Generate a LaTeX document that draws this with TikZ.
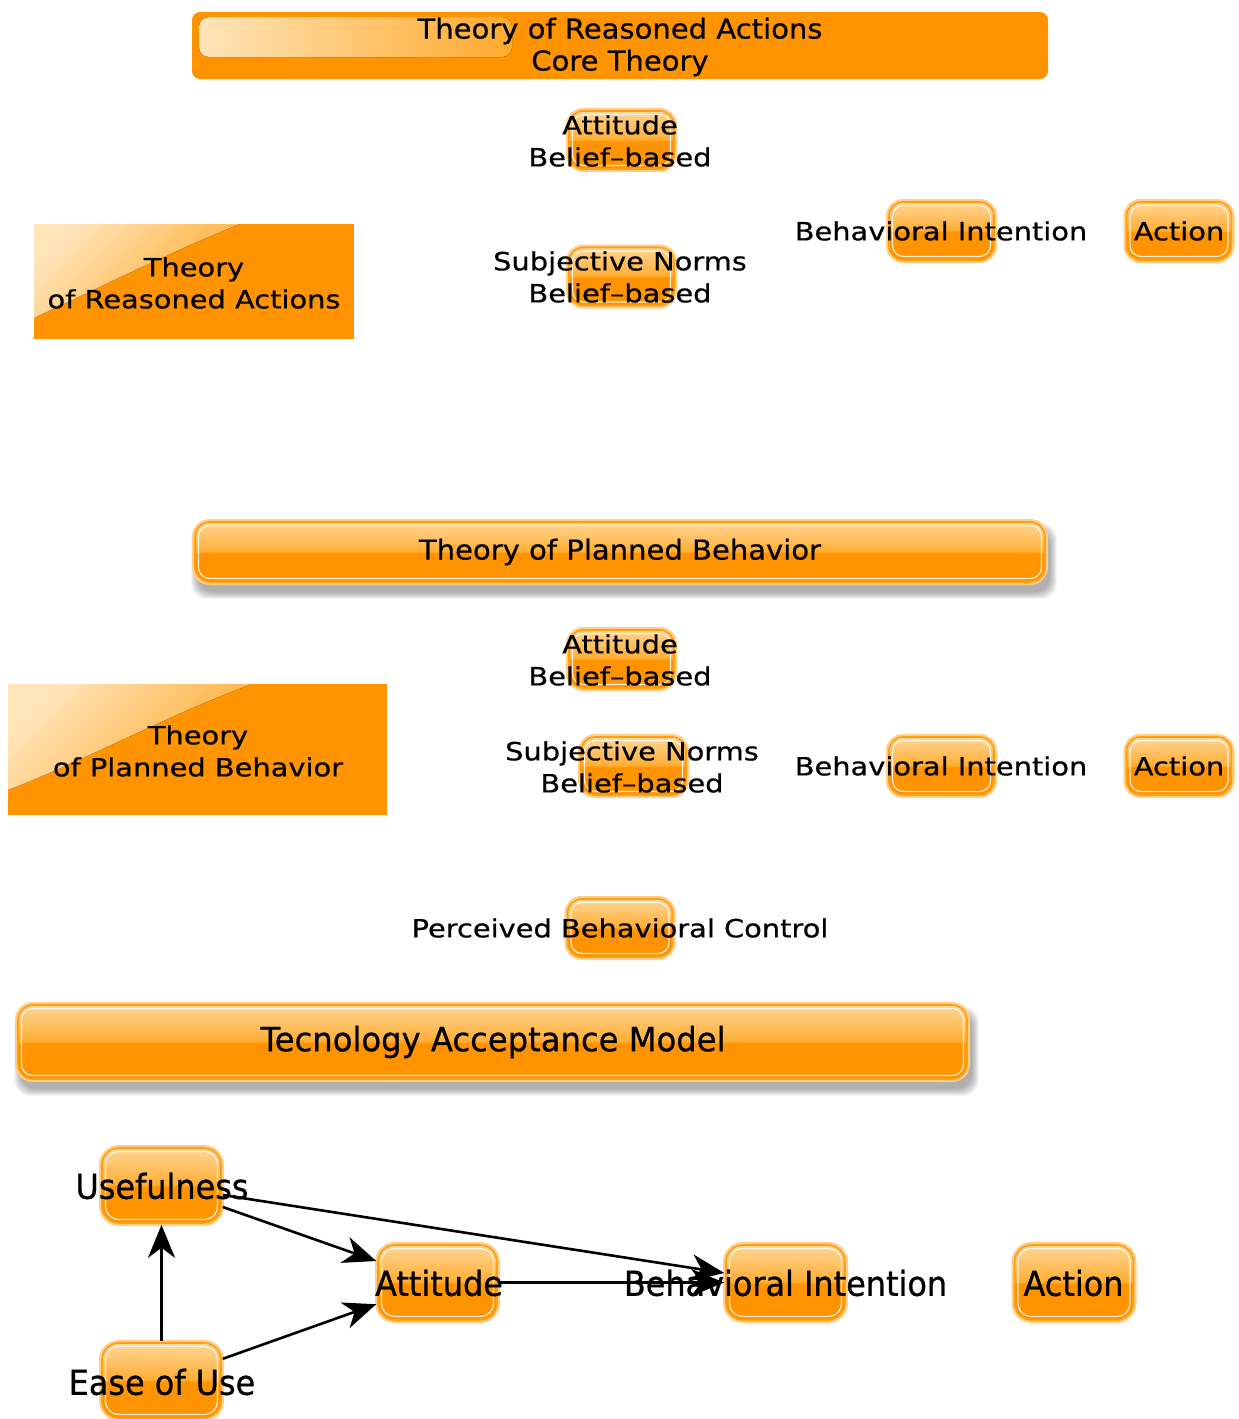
\documentclass[tikz,border=0pt]{standalone}
\usepackage{fontspec}
\usetikzlibrary{arrows.meta}

% Sans families at the widths used by the different label groups
\newfontfamily\lblfam[FakeStretch=1.15,FakeBold=0.6]{DejaVu Sans}
\newfontfamily\barfam[FakeStretch=1.06,FakeBold=0.6]{DejaVu Sans}
\newfontfamily\tamfam[FakeStretch=0.965,FakeBold=0.7]{DejaVu Sans}
\newfontfamily\botfam[FakeStretch=0.93,FakeBold=0.8]{DejaVu Sans}

\definecolor{org}{RGB}{255,147,0}
\definecolor{orgMid}{RGB}{255,174,52}
\definecolor{orgTop}{RGB}{255,214,150}
\definecolor{ring}{RGB}{255,206,135}
\definecolor{orgLine}{RGB}{255,158,18}
\definecolor{paleGloss}{RGB}{255,228,185}
\definecolor{glossEnd}{RGB}{255,170,45}

% glossy fill: pale upper half, solid orange lower half
\pgfdeclareverticalshading{glossy}{100bp}{color(0bp)=(org); color(25bp)=(org); color(49bp)=(org); color(50.5bp)=(orgMid); color(75bp)=(orgTop); color(100bp)=(orgTop)}

% soft shadow below a bar: x1,y1,x2,y2 of the bar
\newcommand\barshadow[4]{%
  \foreach \k in {1,...,8}{%
    \fill[black, opacity=0.045, rounded corners=16pt]
      (#1+4-9+\k, #2+9-9+\k) rectangle (#3+4+9-\k, #4+9+9-\k);}}

\tikzset{
  gloss/.style={draw=orgLine, line width=1.6pt, shading=glossy, inner sep=0pt,
    preaction={draw=ring, line width=6pt},
    path picture={\draw[white, opacity=0.85, line width=1.2pt, rounded corners=#1]
      ([shift={(3.5pt,-3.5pt)}]path picture bounding box.north west) rectangle
      ([shift={(-3.5pt,3.5pt)}]path picture bounding box.south east);}},
  smallbox/.style={gloss=11pt, rounded corners=14pt, minimum width=105pt, minimum height=58pt},
  botbox/.style={gloss=13pt, rounded corners=17pt, minimum width=119pt, minimum height=75pt},
  barbox/.style={gloss=11pt, rounded corners=15pt},
  flatbox/.style={fill=org, inner sep=0pt},
  lbl/.style={align=center, inner sep=0pt, font=\lblfam\fontsize{25.1}{32}\selectfont},
  barlbl/.style={align=center, inner sep=0pt, font=\barfam\fontsize{27.4}{32}\selectfont},
  tamlbl/.style={inner sep=0pt, font=\tamfam\fontsize{33.4}{40}\selectfont},
  botlbl/.style={inner sep=0pt, font=\botfam\fontsize{34.3}{40}\selectfont},
  arr/.style={-{Stealth[length=33pt,width=27pt,inset=10pt]}, line width=2.6pt, shorten >=1pt, shorten <=1pt}
}

\begin{document}
\begin{tikzpicture}[x=1pt, y=-1pt]
\useasboundingbox (0,0) rectangle (1239,1419);
\fill[white] (0,0) rectangle (1239,1419);

% ---------- Theory of Reasoned Actions ----------
\node[flatbox, rounded corners=8pt, minimum width=856pt, minimum height=67pt] (traTitle) at (620,45.5) {};
\fill[left color=paleGloss, right color=glossEnd, rounded corners=10pt] (199,17) rectangle (512,57);
\node[barlbl] (traTitleT) at (620,47) {Theory of Reasoned Actions\\Core Theory};

\node[flatbox, minimum width=320pt, minimum height=115pt] (traLeft) at (194,281.5) {};
\begin{scope}
  \clip (34,224) rectangle (354,339);
  \fill[top color=paleGloss, bottom color=glossEnd, shading angle=45]
    (34,224) -- (240,224) .. controls (170,252) and (90,292) .. (34,318) -- cycle;
\end{scope}
\node[lbl] (traLeftT) at (194,283) {Theory\\of Reasoned Actions};

\node[smallbox] (traAtt) at (621.5,140) {};
\node[smallbox] (traSn) at (621.5,276.5) {};
\node[smallbox] (traBi) at (941.5,231) {};
\node[smallbox] (traAct) at (1179,231) {};

\node[lbl] (traAttT) at (620,141) {Attitude\\Belief–based};
\node[lbl] (traSnT) at (620,277) {Subjective Norms\\Belief–based};
\node[lbl] (traBiT) at (941,231) {Behavioral Intention};
\node[lbl] (traActT) at (1179,231) {Action};

% ---------- Theory of Planned Behavior ----------
\barshadow{195}{522}{1045}{582}
\node[barbox, minimum width=850pt, minimum height=60pt] (tpbBar) at (620,552) {};
\node[barlbl] (tpbBarT) at (620,552) {Theory of Planned Behavior};

\node[flatbox, minimum width=379pt, minimum height=131pt] (tpbLeft) at (197.5,749.5) {};
\begin{scope}
  \clip (8,684) rectangle (387,815);
  \fill[top color=paleGloss, bottom color=glossEnd, shading angle=45]
    (8,684) -- (252,684) .. controls (170,714) and (90,758) .. (8,790) -- cycle;
\end{scope}
\node[lbl] (tpbLeftT) at (198,751) {Theory\\of Planned Behavior};

\node[smallbox] (tpbAtt) at (621.5,659) {};
\node[smallbox] (tpbSn) at (633.5,766) {};
\node[smallbox] (tpbBi) at (941.5,766) {};
\node[smallbox] (tpbAct) at (1179,766) {};
\node[smallbox] (tpbPbc) at (620,928) {};

\node[lbl] (tpbAttT) at (620,660) {Attitude\\Belief–based};
\node[lbl] (tpbSnT) at (632,767) {Subjective Norms\\Belief–based};
\node[lbl] (tpbBiT) at (941,766) {Behavioral Intention};
\node[lbl] (tpbActT) at (1179,766) {Action};
\node[lbl] (tpbPbcT) at (620,928) {Perceived Behavioral Control};

% ---------- Technology Acceptance Model ----------
\barshadow{18}{1005}{967}{1079}
\node[barbox, minimum width=949pt, minimum height=74pt] (tamBar) at (492.5,1042) {};
\node[tamlbl] (tamBarT) at (493,1042) {Tecnology Acceptance Model};

\node[botbox] (use) at (161.5,1185.5) {};
\node[botbox] (eou) at (161.5,1380.5) {};
\node[botbox] (att) at (437.5,1282.5) {};
\node[botbox] (bi) at (785.5,1282.5) {};
\node[botbox] (act) at (1074,1282.5) {};

\node[botlbl] (useT) at (162,1186) {Usefulness};
\node[botlbl] (eouT) at (162,1382) {Ease of Use};
\node[botlbl] (attT) at (439,1283) {Attitude};
\node[botlbl] (biT) at (785.5,1283) {Behavioral Intention};
\node[botlbl] (actT) at (1073.5,1283) {Action};

\draw[arr] (eou) -- (use);
\draw[arr] (use) -- (att);
\draw[arr] (eou) -- (att);
\draw[arr] (use) -- (bi);
\draw[arr] (att) -- (bi);
\end{tikzpicture}
\end{document}
